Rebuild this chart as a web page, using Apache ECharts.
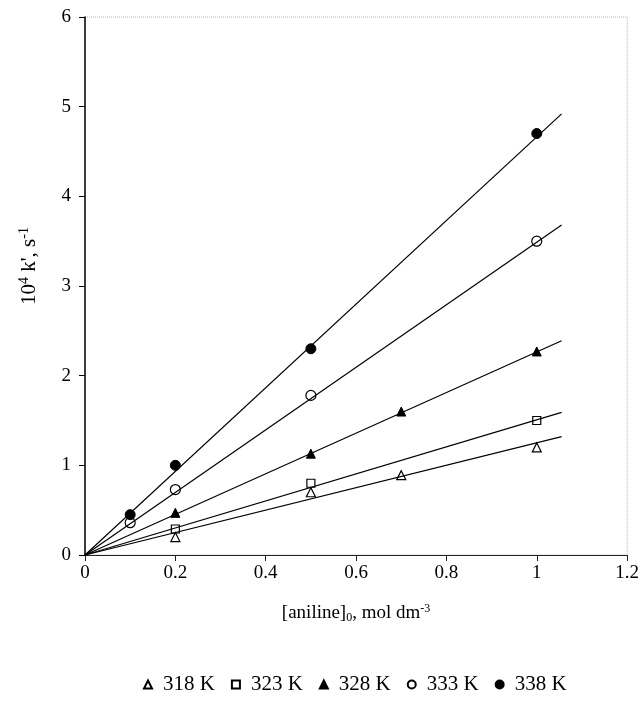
<!DOCTYPE html>
<html>
<head>
<meta charset="utf-8">
<script src="https://cdn.jsdelivr.net/npm/echarts@6/dist/echarts.min.js"></script>
<style>
  html, body { margin: 0; padding: 0; background: #fff; }
  #chart { width: 642px; height: 702px; }
</style>
</head>
<body>
<div id="chart"></div>
<script>
// Temperatures (legend labels)
const seriesNames = ['318 K', '323 K', '328 K', '333 K', '338 K'];

// Measured pseudo-first-order rate constants, 10^4 k' / s^-1
const x318 = [0.2, 0.5, 0.7, 1.0];
const y318 = [0.20, 0.70, 0.89, 1.20];
const x323 = [0.2, 0.5, 1.0];
const y323 = [0.29, 0.80, 1.50];
const x328 = [0.2, 0.5, 0.7, 1.0];
const y328 = [0.47, 1.13, 1.60, 2.27];
const x333 = [0.1, 0.2, 0.5, 1.0];
const y333 = [0.36, 0.73, 1.78, 3.50];
const x338 = [0.1, 0.2, 0.5, 1.0];
const y338 = [0.45, 1.00, 2.30, 4.70];

// Fitted straight lines through the origin: end point of each line
const fitStartX = 0;
const fitEndX = 1.055;
const fitEndY = [1.32, 1.59, 2.39, 3.68, 4.92];

// Axis ticks
const xTicks = [0, 0.2, 0.4, 0.6, 0.8, 1, 1.2];
const yTicks = [0, 1, 2, 3, 4, 5, 6];

const xs = [x318, x323, x328, x333, x338];
const ys = [y318, y323, y328, y333, y338];
const symbols = ['triangle', 'rect', 'triangle', 'circle', 'circle'];
const filled = [false, false, true, false, true];
const sizes = [9, 8, 9, 10, 10];

const font = '"Liberation Serif", "DejaVu Serif", serif';

const series = [];
seriesNames.forEach((name, i) => {
  series.push({
    name: name + '_fit',
    type: 'line',
    data: [[fitStartX, 0], [fitEndX, fitEndY[i]]],
    showSymbol: false,
    symbol: 'none',
    lineStyle: { color: '#000', width: 1.2 },
    silent: true,
    z: 2
  });
});
seriesNames.forEach((name, i) => {
  series.push({
    name: name,
    type: 'scatter',
    data: xs[i].map((x, k) => [x, ys[i][k]]),
    symbol: symbols[i],
    symbolSize: sizes[i],
    itemStyle: filled[i]
      ? { color: '#000', borderColor: '#000', borderWidth: 1, opacity: 1 }
      : { color: 'rgba(255,255,255,0)', borderColor: '#000', borderWidth: 1.2, opacity: 1 },
    z: 3
  });
});

const chart = echarts.init(document.getElementById('chart'));
chart.setOption({
  animation: false,
  backgroundColor: '#fff',
  grid: {
    left: 85, right: 14, top: 17, bottom: 147,
    show: true,
    borderColor: '#b5b5b5',
    borderWidth: 1,
    borderType: 'dotted'
  },
  legend: {
    data: seriesNames,
    bottom: 2,
    left: 138,
    itemWidth: 8,
    itemHeight: 8,
    itemGap: 16,
    textStyle: { fontFamily: font, fontSize: 21, color: '#000', padding: [0, 0, 0, 6] }
  },
  xAxis: {
    type: 'value',
    min: xTicks[0],
    max: xTicks[xTicks.length - 1],
    interval: 0.2,
    splitLine: { show: false },
    axisLine: { show: true, lineStyle: { color: '#222', width: 1 } },
    axisTick: { show: true, length: 6, lineStyle: { color: '#222' } },
    axisLabel: {
      color: '#000', fontFamily: font, fontSize: 19, margin: 9,
      formatter: v => String(v)
    },
    name: '{n|[aniline]}{sub|0}{n|, mol dm}{sup|-3}',
    nameLocation: 'middle',
    nameGap: 48,
    nameTextStyle: {
      rich: {
        n: { fontFamily: font, fontSize: 19, color: '#000' },
        sub: { fontFamily: font, fontSize: 12, color: '#000', verticalAlign: 'bottom', padding: [8, 0, 0, 0] },
        sup: { fontFamily: font, fontSize: 12, color: '#000', verticalAlign: 'top', padding: [0, 0, 9, 0] }
      }
    }
  },
  yAxis: {
    type: 'value',
    min: yTicks[0],
    max: yTicks[yTicks.length - 1],
    interval: 1,
    splitLine: { show: false },
    axisLine: { show: true, lineStyle: { color: '#000', width: 1.5 } },
    axisTick: { show: true, length: 6, lineStyle: { color: '#000' } },
    axisLabel: { color: '#000', fontFamily: font, fontSize: 19, margin: 14 },
    name: '{n|10}{sup|4}{n| k\', s}{sup|-1}',
    nameLocation: 'middle',
    nameGap: 44,
    nameRotate: 90,
    nameTextStyle: {
      padding: [0, 0, 0, 40],
      rich: {
        n: { fontFamily: font, fontSize: 21, color: '#000' },
        sup: { fontFamily: font, fontSize: 14, color: '#000', verticalAlign: 'top', padding: [0, 0, 10, 0] }
      }
    }
  },
  series: series
});
</script>
</body>
</html>
